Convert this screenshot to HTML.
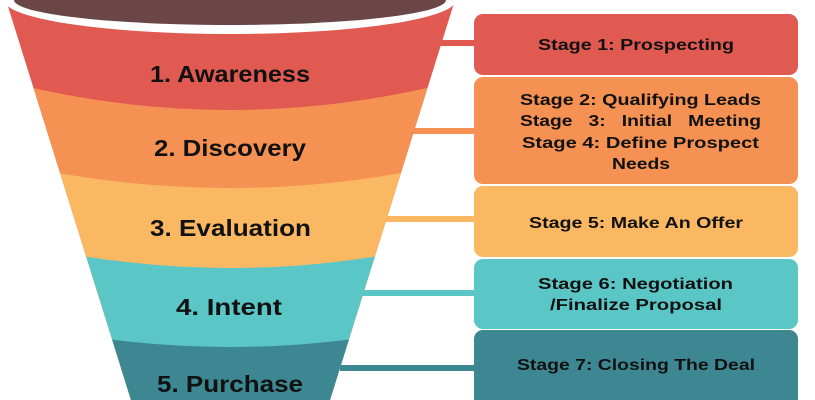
<!DOCTYPE html>
<html><head><meta charset="utf-8"><style>
html,body{margin:0;padding:0;background:#fff;}
svg{display:block;}
text{font-family:"Liberation Sans",sans-serif;font-weight:bold;fill:#111;}
</style></head><body>
<svg width="815" height="400" viewBox="0 0 815 400" xmlns="http://www.w3.org/2000/svg">
<defs>
<clipPath id="f"><path d="M6 0 L455 0 L330 400 L131 400 Z"/></clipPath>
</defs>
<rect x="420" y="40" width="60" height="6" fill="#e05a52"/>
<rect x="400" y="128" width="80" height="6" fill="#f59152"/>
<rect x="380" y="216" width="100" height="6" fill="#fbb862"/>
<rect x="360" y="290" width="120" height="6" fill="#5bc6c6"/>
<rect x="340" y="365" width="140" height="6" fill="#3d8792"/>
<g clip-path="url(#f)">
<rect x="0" y="0" width="460" height="400" fill="#e05a52"/>
<path d="M0 80 Q230 140 460 80 L460 400 L0 400 Z" fill="#f59152"/>
<path d="M0 161 Q230 215 460 161 L460 400 L0 400 Z" fill="#fbb862"/>
<path d="M0 239 Q230 297 460 239 L460 400 L0 400 Z" fill="#5bc6c6"/>
<path d="M0 319 Q230 375 460 319 L460 400 L0 400 Z" fill="#3d8792"/>
</g>
<ellipse cx="230" cy="0" rx="226" ry="34" fill="#fff"/>
<ellipse cx="230" cy="0" rx="216" ry="25" fill="#6b4646"/>
<g font-size="23">
<text x="150" y="82" textLength="160" lengthAdjust="spacingAndGlyphs">1. Awareness</text>
<text x="154" y="156" textLength="152" lengthAdjust="spacingAndGlyphs">2. Discovery</text>
<text x="150" y="236" textLength="161" lengthAdjust="spacingAndGlyphs">3. Evaluation</text>
<text x="176" y="315" textLength="106" lengthAdjust="spacingAndGlyphs">4. Intent</text>
<text x="157" y="392" textLength="146" lengthAdjust="spacingAndGlyphs">5. Purchase</text>
</g>
<rect x="474" y="14" width="324" height="61" rx="9" fill="#e05a52"/>
<rect x="474" y="77" width="324" height="107" rx="9" fill="#f59152"/>
<rect x="474" y="186" width="324" height="71" rx="9" fill="#fbb862"/>
<rect x="474" y="259" width="324" height="70" rx="9" fill="#5bc6c6"/>
<rect x="474" y="330" width="324" height="80" rx="9" fill="#3d8792"/>
<g font-size="16">
<text x="538" y="50" textLength="196" lengthAdjust="spacingAndGlyphs">Stage 1: Prospecting</text>
<text x="520" y="105" textLength="241" lengthAdjust="spacingAndGlyphs">Stage 2: Qualifying Leads</text>
<text x="520" y="126" textLength="241" lengthAdjust="spacingAndGlyphs">Stage&#160;&#160;&#160;3:&#160;&#160;&#160;Initial&#160;&#160;&#160;Meeting</text>
<text x="522" y="148" textLength="237" lengthAdjust="spacingAndGlyphs">Stage 4: Define Prospect</text>
<text x="612" y="169" textLength="58" lengthAdjust="spacingAndGlyphs">Needs</text>
<text x="529" y="228" textLength="214" lengthAdjust="spacingAndGlyphs">Stage 5: Make An Offer</text>
<text x="538" y="289" textLength="195" lengthAdjust="spacingAndGlyphs">Stage 6: Negotiation</text>
<text x="550" y="310" textLength="172" lengthAdjust="spacingAndGlyphs">/Finalize Proposal</text>
<text x="517" y="370" textLength="238" lengthAdjust="spacingAndGlyphs">Stage 7: Closing The Deal</text>
</g>
</svg>
</body></html>
